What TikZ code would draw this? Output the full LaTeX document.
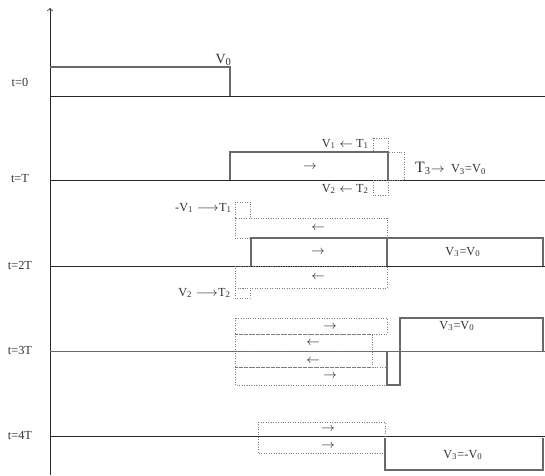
\documentclass[tikz,border=0pt]{standalone}
\usepackage{fontspec}
\setmainfont{Liberation Serif}
\definecolor{cAXIS}{RGB}{40,40,40}
\definecolor{cWAVE}{RGB}{105,105,105}
\definecolor{cREFL}{RGB}{125,125,125}
\tikzset{
  wave/.style={cWAVE,semithick},
  refl/.style={cREFL,densely dotted,thin},
  lbl/.style={font=\fontsize{7}{8}\selectfont,inner sep=1pt,text=black!80},
}
\begin{document}
\begin{tikzpicture}[x=0.2mm,y=-0.2mm]
\useasboundingbox (0,0) rectangle (545,475);
\draw[cAXIS,->] (50,475) -- (50,8);
\foreach \yy in {96,180,266,436}
  \draw[cAXIS] (50,\yy) -- (545,\yy);
\draw[cWAVE] (50,351) -- (545,351);
\node[lbl] (t0) at (20,82) {t=0};
\node[lbl] (t1) at (20,179) {t=T};
\node[lbl] (t2) at (20,265) {t=2T};
\node[lbl] (t3) at (20,350) {t=3T};
\node[lbl] (t4) at (20,435) {t=4T};
\draw[wave] (50,67) -- (230,67) -- (230,96);
\node[lbl,anchor=south east,font=\fontsize{8}{9}\selectfont] (v0) at (234,68) {V\textsubscript{0}};
\draw[wave] (230,180) -- (230,152) -- (388,152) -- (388,180);
\draw[refl] (373,138) rectangle (388,152);
\draw[refl] (388,152) rectangle (404,180);
\draw[refl] (373,180) rectangle (388,195);
\node[lbl] (r1) at (310,167) {$\rightarrow$};
\node[lbl,anchor=east] (v1t1) at (371,144) {V\textsubscript{1} $\leftarrow$ T\textsubscript{1}};
\node[lbl,anchor=east] (v2t2) at (371,189) {V\textsubscript{2} $\leftarrow$ T\textsubscript{2}};
\node[lbl,anchor=west] (t3v3) at (413,168) {{\fontsize{9}{10}\selectfont T\textsubscript{3}}$\rightarrow$\ \ V\textsubscript{3}=V\textsubscript{0}};
\draw[refl] (235,202) rectangle (250,218);
\draw[refl] (235,218) rectangle (387,238);
\draw[wave] (251,266) -- (251,238) -- (543,238) -- (543,266);
\draw[wave] (387,238) -- (387,266);
\draw[refl] (235,266) rectangle (387,288);
\draw[refl] (235,288) rectangle (250,298);
\node[lbl,anchor=east] (v1t1b) at (234,208) {-V\textsubscript{1} $\longrightarrow$T\textsubscript{1}};
\node[lbl,anchor=east] (v2t2b) at (233,293) {V\textsubscript{2} $\longrightarrow$T\textsubscript{2}};
\node[lbl] (l2a) at (318,228) {$\leftarrow$};
\node[lbl] (r2) at (318,252) {$\rightarrow$};
\node[lbl] (l2b) at (318,277) {$\leftarrow$};
\node[lbl] (v3a) at (463,252) {V\textsubscript{3}=V\textsubscript{0}};
\draw[refl] (235,318) rectangle (387,334);
\draw[refl] (235,334) rectangle (372,351);
\draw[refl] (235,351) rectangle (372,367);
\draw[refl] (235,367) rectangle (387,385);
\draw[wave] (387,351) -- (387,385) -- (400,385) -- (400,318) -- (543,318) -- (543,351);
\node[lbl] (r3a) at (330,327) {$\rightarrow$};
\node[lbl] (l3a) at (313,343) {$\leftarrow$};
\node[lbl] (l3b) at (313,361) {$\leftarrow$};
\node[lbl] (r3b) at (330,376) {$\rightarrow$};
\node[lbl] (v3b) at (457,326) {V\textsubscript{3}=V\textsubscript{0}};
\draw[refl] (258,422) rectangle (385,453);
\draw[wave] (385,438) -- (385,470) -- (543,470) -- (543,438);
\node[lbl] (r4a) at (328,429) {$\rightarrow$};
\node[lbl] (r4b) at (328,446) {$\rightarrow$};
\node[lbl] (v3c) at (463,455) {V\textsubscript{3}=-V\textsubscript{0}};
\end{tikzpicture}
\end{document}
